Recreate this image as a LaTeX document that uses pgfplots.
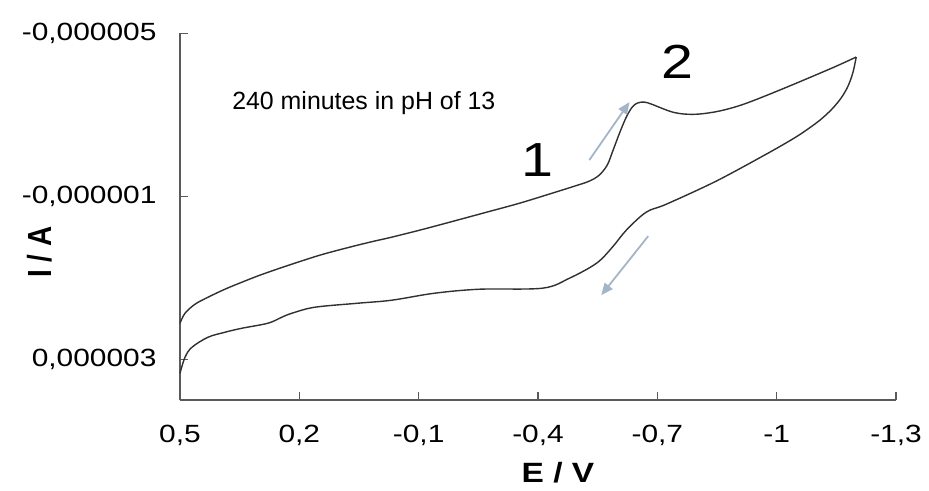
\documentclass[border=0pt]{standalone}
\usepackage{pgfplots}
\pgfplotsset{compat=1.18}
\usepackage{fontspec}
\setmainfont{Liberation Sans}
\usetikzlibrary{arrows.meta}
\definecolor{axgray}{HTML}{5A5A5A}
\definecolor{curve}{HTML}{303030}
\definecolor{arrowblue}{HTML}{A3B5C7}
\newcommand{\sx}[1]{\scalebox{1.2}[1]{#1}}
\begin{document}
\begin{tikzpicture}[x=1bp,y=1bp]
\useasboundingbox (0,0) rectangle (929,491);
\begin{axis}[
  at={(180bp,91bp)}, anchor=south west,
  width=716bp, height=366.7bp, scale only axis,
  x dir=reverse, y dir=reverse,
  xmin=-1.3, xmax=0.5, ymin=-5e-6, ymax=4e-6,
  axis x line=bottom, axis y line=left,
  axis line style={-, axgray, line width=1.3bp},
  scaled y ticks=false, scaled x ticks=false,
  xtick={0.5,0.2,-0.1,-0.4,-0.7,-1,-1.3},
  xticklabels={{\sx{0,5}},{\sx{0,2}},{\sx{-0,1}},{\sx{-0,4}},{\sx{-0,7}},{\sx{-1}},{\sx{-1,3}}},
  ytick={-5e-6,-1e-6,3e-6},
  yticklabels={{\sx{-0,000005}},{\sx{-0,000001}},{\sx{0,000003}}},
  tick align=inside, major tick length=8bp,
  tick style={axgray, line width=1.3bp},
  xticklabel style={font=\fontsize{25}{30}\selectfont, yshift=-22bp},
  yticklabel style={font=\fontsize{25}{30}\selectfont, xshift=-20bp},
  clip=false,
]
\addplot[curve, line width=1.4bp, smooth, tension=0.55] coordinates {
(0.5,2.116e-6) (0.4874,1.871e-6) (0.4623,1.650e-6) (0.4297,1.478e-6)
(0.387,1.281e-6) (0.3444,1.109e-6) (0.2992,0.937e-6) (0.2490,0.765e-6)
(0.2038,0.618e-6) (0.1486,0.446e-6) (0.0933,0.299e-6) (0.0230,0.127e-6)
(-0.0322,0.004e-6) (-0.1025,-0.168e-6) (-0.178,-0.364e-6) (-0.271,-0.610e-6)
(-0.354,-0.831e-6) (-0.436,-1.077e-6) (-0.492,-1.249e-6) (-0.529,-1.372e-6)
(-0.554,-1.519e-6) (-0.574,-1.765e-6) (-0.587,-2.084e-6) (-0.605,-2.551e-6)
(-0.622,-2.944e-6) (-0.637,-3.190e-6) (-0.650,-3.288e-6) (-0.667,-3.312e-6)
(-0.685,-3.263e-6) (-0.710,-3.165e-6) (-0.738,-3.067e-6) (-0.768,-3.018e-6)
(-0.805,-3.018e-6) (-0.856,-3.092e-6) (-0.918,-3.263e-6) (-1.014,-3.632e-6)
(-1.139,-4.147e-6) (-1.200,-4.418e-6)
};
\addplot[curve, line width=1.4bp, smooth, tension=0.55] coordinates {
(-1.200,-4.418e-6) (-1.192,-4.049e-6) (-1.1795,-3.706e-6) (-1.162,-3.411e-6)
(-1.139,-3.141e-6) (-1.112,-2.895e-6) (-1.082,-2.674e-6) (-1.044,-2.428e-6)
(-0.974,-2.035e-6) (-0.848,-1.372e-6) (-0.723,-0.807e-6) (-0.672,-0.610e-6)
(-0.622,-0.168e-6) (-0.587,0.249e-6) (-0.547,0.644e-6) (-0.479,1.011e-6)
(-0.411,1.256e-6) (-0.253,1.281e-6) (-0.140,1.379e-6) (-0.0322,1.551e-6)
(0.0531,1.625e-6) (0.161,1.723e-6) (0.2188,1.871e-6) (0.2439,1.968e-6)
(0.279,2.116e-6) (0.3444,2.239e-6) (0.387,2.337e-6)
(0.4297,2.460e-6) (0.4699,2.706e-6) (0.4874,2.951e-6) (0.5,3.345e-6)
};
\draw[arrowblue, line width=1.8bp, -{Triangle[length=12bp,width=10bp]}]
  (axis cs:-0.529,-1.888e-6) -- (axis cs:-0.630,-3.312e-6);
\draw[arrowblue, line width=1.8bp, -{Triangle[length=12bp,width=10bp]}]
  (axis cs:-0.677,-0.021e-6) -- (axis cs:-0.559,1.428e-6);
\node[anchor=west, inner sep=0pt, font=\fontsize{25}{30}\selectfont] at (axis cs:0.369,-3.30e-6) {240 minutes in pH of 13};
\node[inner sep=0pt, font=\fontsize{48}{56}\selectfont] at (axis cs:-0.399,-1.888e-6) {\sx{1}};
\node[inner sep=0pt, font=\fontsize{48}{56}\selectfont] at (axis cs:-0.750,-4.295e-6) {\sx{2}};
\end{axis}
\node[font=\fontsize{28}{32}\selectfont\bfseries] at (558,18) {\sx{E / V}};
\node[font=\fontsize{28}{32}\selectfont\bfseries, rotate=90] at (40,239) {\scalebox{1}[1.2]{I / A}};
\end{tikzpicture}
\end{document}
